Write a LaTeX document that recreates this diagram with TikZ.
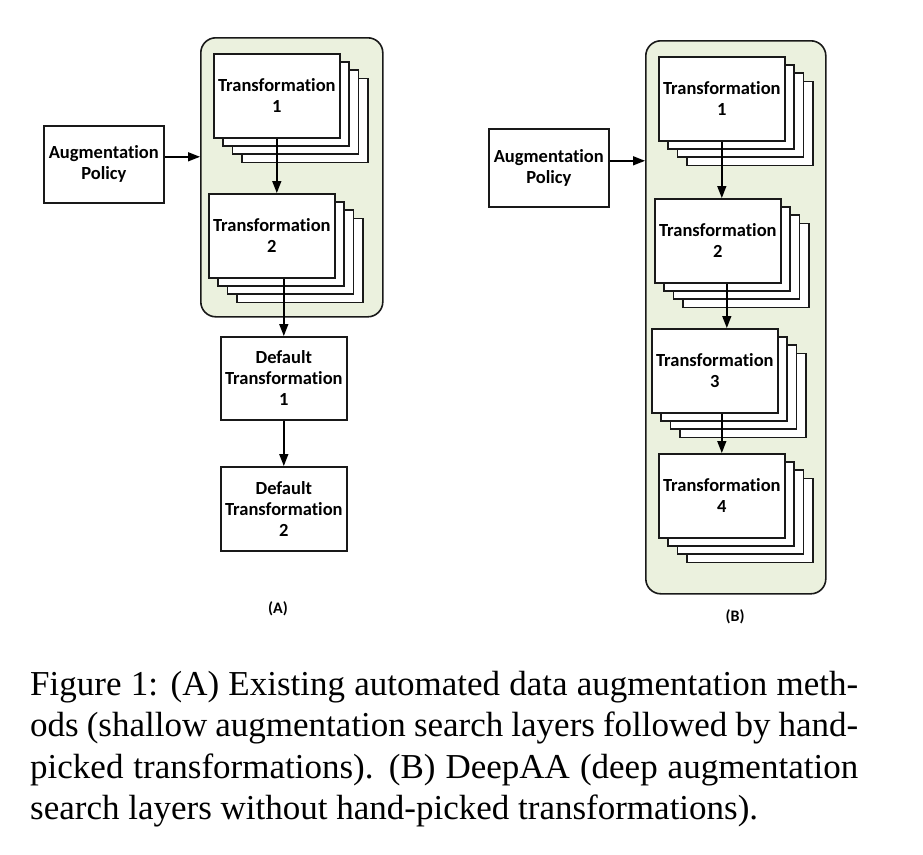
\documentclass[tikz,border=0pt]{standalone}
\usepackage{fontspec}
\usepackage{tikz}
\usetikzlibrary{arrows.meta}
\usetikzlibrary{positioning}
\newfontfamily\calibri{Carlito}[Ligatures=NoCommon]
\newfontfamily\capfont{Liberation Serif}
\definecolor{mgreen}{RGB}{235, 241, 222}
\definecolor{mline}{RGB}{25, 25, 25}
\tikzset{
  panel/.style={draw=mline, line width=1.6pt, fill=mgreen, rounded corners=15pt,
    anchor=north west, inner sep=0pt},
  box/.style={draw=mline, line width=1.6pt, fill=white, anchor=north west, inner sep=0pt,
    align=center, font=\calibri\bfseries\fontsize{18.5}{21}\selectfont},
  tf/.style={box, minimum width=126pt, minimum height=84pt},
  arr/.style={line width=1.4pt, -{Triangle[length=12pt, width=9pt]}}
}

\begin{document}
\begin{tikzpicture}[x=1pt, y=-1pt]
    \useasboundingbox [fill=white] (0, 0) rectangle (923, 854);

    \node [panel, minimum width=182pt, minimum height=279pt] (panA) at (200, 37) {};
    \node [panel, minimum width=180pt, minimum height=553pt] (panB) at (645, 40) {};

    \node [box, minimum width=120pt, minimum height=77pt] (pA) at (43, 125) {Augmentation\\Policy};
    \node [box, minimum width=120pt, minimum height=78pt] (pB) at (488, 128) {Augmentation\\Policy};

    \foreach \d in {3, 2, 1} \node [tf] at ({213 + 9.3*\d}, {53 + 8.2*\d}) {};
    \node [tf] (a1) at (213, 53) {Transformation\\1};
    \foreach \d in {3, 2, 1} \node [tf] at ({208 + 9.3*\d}, {193 + 8.2*\d}) {};
    \node [tf] (a2) at (208, 193) {Transformation\\2};

    \node [tf, minimum height=83pt] (d1) at (220, 336) {Default\\Transformation\\1};
    \node [tf] (d2) at (220, 466) {Default\\Transformation\\2};

    \foreach \d in {3, 2, 1} \node [tf] at ({658 + 9.3*\d}, {56 + 8.2*\d}) {};
    \node [tf] (b1) at (658, 56) {Transformation\\1};
    \foreach \d in {3, 2, 1} \node [tf] at ({654 + 9.3*\d}, {198 + 8.2*\d}) {};
    \node [tf] (b2) at (654, 198) {Transformation\\2};
    \foreach \d in {3, 2, 1} \node [tf] at ({651 + 9.3*\d}, {328 + 8.2*\d}) {};
    \node [tf] (b3) at (651, 328) {Transformation\\3};
    \foreach \d in {3, 2, 1} \node [tf] at ({658 + 9.3*\d}, {453 + 8.2*\d}) {};
    \node [tf] (b4) at (658, 453) {Transformation\\4};

    \draw [arr] ([yshift=7.5pt]pA.east) -- ([yshift=7.5pt]pA.east -| panA.west);
    \draw [arr] (a1.south) -- (a1.south |- a2.north);
    \draw [arr] (d1.north |- a2.south) -- (d1.north);
    \draw [arr] (d1) -- (d2);

    \draw [arr] ([yshift=7pt]pB.east) -- ([yshift=7pt]pB.east -| panB.west);
    \draw [arr] (b1.south) -- (b1.south |- b2.north);
    \draw [arr] ([xshift=9pt]b2.south) -- ([xshift=9pt]b2.south |- b3.north);
    \draw [arr] (b4.north |- b3.south) -- (b4.north);

    \node [font=\calibri\bfseries\fontsize{16}{18}\selectfont] (labA) at (278, 609) {(A)};
    \node [font=\calibri\bfseries\fontsize{16}{18}\selectfont] (labB) at (735, 617) {(B)};

    \node [anchor=base west, inner sep=0pt, text width=828pt, align=justify,
      font=\capfont\fontsize{35}{41.5}\selectfont] (cap) at (30, 695)
      {Figure 1: (A) Existing automated data augmentation meth-\linebreak
       ods (shallow augmentation search layers followed by hand-\linebreak
       picked transformations).  (B) DeepAA (deep augmentation\linebreak
       search layers without hand-picked transformations).};
\end{tikzpicture}
\end{document}
